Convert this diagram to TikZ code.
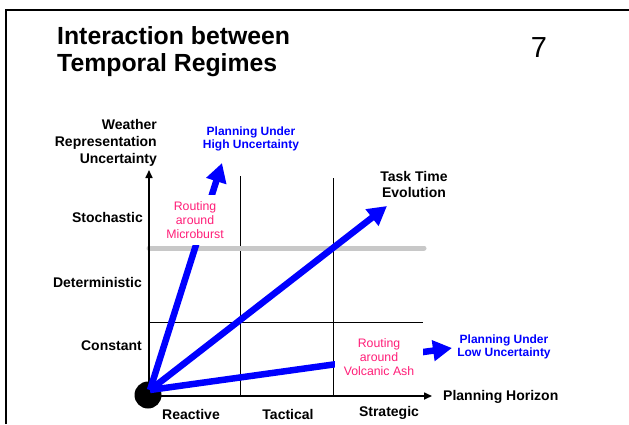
\documentclass[tikz,border=0pt]{standalone}
\usepackage{fontspec}
\setmainfont{Liberation Sans}
\usetikzlibrary{arrows.meta}
\definecolor{cB}{RGB}{0,0,255}
\definecolor{cP}{RGB}{255,30,120}
\definecolor{cG}{RGB}{200,200,200}

\begin{document}
\begin{tikzpicture}[x=1pt, y=-1pt, inner sep=0pt,
    axlab/.style={font=\fontsize{14}{17}\selectfont\bfseries},
    bluelab/.style={text=cB, align=center, font=\fontsize{12}{13}\selectfont\bfseries},
    pinklab/.style={text=cP, align=center, fill=white, font=\fontsize{12.3}{14}\selectfont},
    regime/.style={line width=6.5pt, draw=cB, -{Triangle[length=19pt,width=20pt]}},
    gridline/.style={line width=0.8pt},
    axis/.style={line width=1.6pt, -{Triangle[length=8pt,width=7pt]}}]
    \useasboundingbox (0,0) rectangle (629,424);

    % Slide frame and title
    \draw[line width=2pt] (6,424) -- (6,10) -- (629,10);
    \node[anchor=north west, align=left, font=\fontsize{24.8}{27}\selectfont\bfseries] (ttl) at (57,26) {Interaction between\\Temporal Regimes};
    \node[font=\fontsize{29}{30}\selectfont] (pg) at (539,48) {7};

    % Grid
    \coordinate (O) at (149,396);
    \draw[gridline] (149,322) -- (423,322);
    \draw[gridline] (240,176) -- (240,396);
    \draw[gridline] (333,178) -- (333,396);
    \draw[line width=5pt, cG, line cap=round] (149,248) -- (424,248);

    % Axes
    \coordinate (yEnd) at (149,170);
    \coordinate (xEnd) at (432,396);
    \draw[axis] (O) -- (yEnd);
    \draw[axis] (O) -- (xEnd);
    \node[circle, fill=black, minimum size=27pt] (dot) at (148,395) {};

    % Axis labels
    \node[axlab, anchor=east, align=right] (wru) at (157,143) {Weather\\Representation\\Uncertainty};
    \node[axlab, anchor=east] (yS) at (143,217) {Stochastic};
    \node[axlab, anchor=east] (yD) at (142,282) {Deterministic};
    \node[axlab, anchor=east] (yC) at (142,346) {Constant};
    \node[axlab] (xR) at (191,414) {Reactive};
    \node[axlab] (xT) at (288,414) {Tactical};
    \node[axlab] (xS) at (389,413) {Strategic};
    \node[axlab, anchor=west] (ph) at (443,397) {Planning Horizon};
    \node[axlab, align=center, font=\fontsize{14}{16}\selectfont\bfseries] (tte) at (414,184) {Task Time\\Evolution};

    % Regime arrows
    \coordinate (src) at (150,390);
    \coordinate (hiT) at (222,163);
    \coordinate (ttT) at (387,206);
    \coordinate (loT) at (452,348);
    \draw[regime] (src) -- (hiT);
    \draw[regime] (src) -- (ttT);
    \draw[regime] (src) -- (loT);

    % Routing examples
    \node[pinklab, minimum height=50pt] (burst) at (195,220) {Routing\\around\\Microburst};
    \node[pinklab, minimum width=88pt] (ash) at (379,357) {Routing\\around\\Volcanic Ash};

    % Planning regimes
    \node[bluelab] (hiU) at (251,139) {Planning Under\\High Uncertainty};
    \node[bluelab] (loU) at (504,347) {Planning Under\\Low Uncertainty};
\end{tikzpicture}
\end{document}
